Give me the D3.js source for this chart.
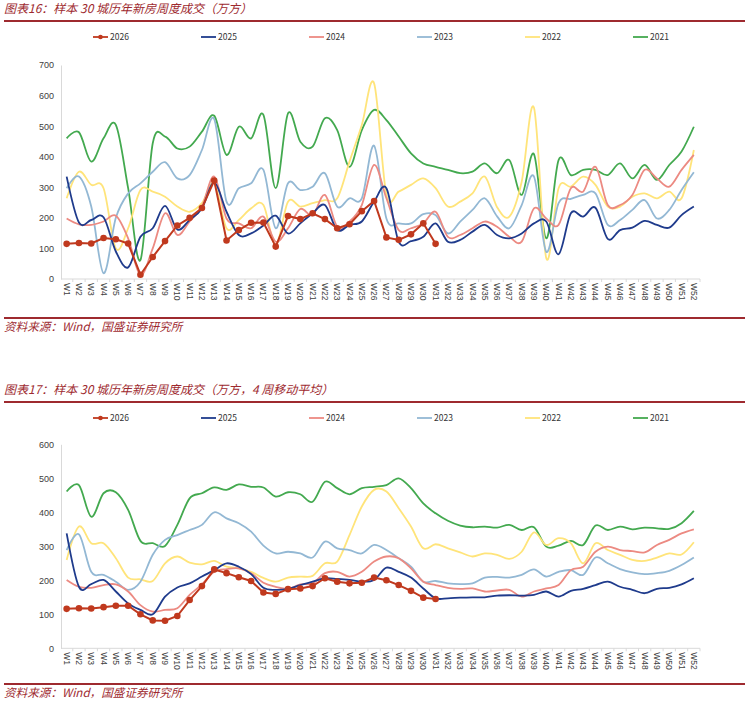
<!DOCTYPE html>
<html lang="zh-CN">
<head>
<meta charset="utf-8" />
<title>样本30城历年新房周度成交</title>
<script src="https://cdn.jsdelivr.net/npm/d3@7"></script>
<style>
body { margin:0; background:#fff; }
svg text { font-family: "Noto Sans CJK SC", "Noto Sans", sans-serif; }
</style>
</head>
<body>
<div id="chart"></div>
<script type="text/javascript">
// week categories W1..W52
var weeks = d3.range(1, 53).map(function (i) { return "W" + i; });
var years = ["2026", "2025", "2024", "2023", "2022", "2021"];
var colors = ["#c0391e", "#1f3b8c", "#ec8a82", "#93b8d4", "#ffe47a", "#43a94f"];

// weekly deals (10k m2)
var wk2026 = [115,118,116,134,130,116,14,72,124,175,200,232,322,126,160,184,185,106,206,196,215,196,166,179,222,255,136,128,146,182,115];
var wk2025 = [335,185,193,202,90,38,138,166,239,162,193,231,315,220,144,149,175,207,149,182,215,242,160,177,188,253,297,122,124,138,182,122,128,155,177,144,133,149,182,188,81,215,204,233,131,160,168,190,177,168,209,237];
var wk2024 = [198,179,177,188,207,133,13,100,215,144,188,237,335,198,182,166,204,122,166,229,209,275,171,188,242,373,264,160,166,182,220,138,144,166,188,171,138,122,231,198,177,297,286,367,242,242,275,357,329,302,357,406];
var wk2023 = [297,335,237,19,200,280,313,351,382,329,340,422,523,253,297,313,357,166,313,291,302,346,237,264,264,436,198,182,182,212,209,149,188,226,264,205,166,242,335,89,248,262,275,280,177,193,226,258,198,226,291,349];
var wk2022 = [264,351,308,297,100,166,291,286,269,237,220,248,313,166,193,231,242,111,253,237,248,258,264,384,504,640,275,286,308,329,297,237,253,280,335,235,204,318,560,68,297,302,335,308,237,237,269,280,264,286,264,422];
var wk2021 = [460,480,384,460,504,297,62,444,466,427,433,482,534,406,498,460,537,297,542,449,433,526,487,367,487,553,520,466,411,378,367,357,346,351,378,346,389,275,408,133,389,340,357,357,340,378,329,373,324,373,417,498];

// 4-week moving average
var ma2026 = [116,118,117,121,125,125,100,82,81,95,142,183,232,221,209,198,164,160,174,176,183,206,196,191,193,208,200,186,169,149,145];
var ma2025 = [338,181,189,201,167,132,113,100,152,179,191,211,230,250,240,218,178,172,175,186,196,206,204,201,196,201,237,225,208,176,147,147,149,150,150,155,156,155,157,167,152,169,175,186,196,181,172,162,175,178,188,206];
var ma2024 = [201,181,178,186,188,167,127,108,113,118,157,188,225,233,235,221,193,181,175,188,191,221,225,211,225,255,270,265,235,196,186,178,175,176,167,170,172,152,167,176,186,230,240,284,299,289,286,282,304,319,338,350];
var ma2023 = [289,335,225,216,196,172,196,275,319,333,348,363,400,382,368,343,302,279,284,279,267,314,294,289,279,304,289,265,240,196,198,191,189,191,208,210,208,216,232,211,225,230,216,267,250,233,223,218,221,228,245,267];
var ma2022 = [260,358,309,309,265,208,203,198,250,270,252,247,257,240,235,225,207,196,208,211,213,250,255,333,417,466,461,412,358,294,306,294,282,270,279,275,263,284,341,304,324,309,250,309,289,275,260,257,267,279,276,312];
var ma2021 = [461,480,387,456,459,407,316,309,301,363,441,456,473,466,482,475,473,446,459,453,431,490,471,453,471,475,480,500,471,426,397,375,361,356,358,355,363,348,356,299,302,316,304,361,348,358,350,355,353,351,368,404];

var yTicksTop = [0,100,200,300,400,500,600,700];
var yTicksBottom = [0,100,200,300,400,500,600];

var W = 754, H = 712;
var red = "#9e2a2f";

var svg = d3.select("#chart").append("svg")
    .attr("width", W)
    .attr("height", H);
svg.append("rect").attr("width", W).attr("height", H).attr("fill", "#fff");

var x = d3.scaleBand().domain(weeks).range([60.5, 700]);

function panel(cfg) {
  var g = svg.append("g");

  // caption + rule
  g.append("text")
   .attr("x", 4).attr("y", cfg.titleY)
   .attr("font-size", 12).attr("font-style", "italic")
   .attr("fill", red)
   .text(cfg.title);
  g.append("line")
   .attr("x1", 4).attr("x2", 745)
   .attr("y1", cfg.ruleY).attr("y2", cfg.ruleY)
   .attr("stroke", red).attr("stroke-width", 2.2);

  // legend
  years.forEach(function (yr, i) {
    var lx = 93 + i * 108;
    g.append("line")
     .attr("x1", lx).attr("x2", lx + 15)
     .attr("y1", cfg.legendY).attr("y2", cfg.legendY)
     .attr("stroke", colors[i]).attr("stroke-width", 1.8);
    if (i == 0) {
      g.append("circle").attr("cx", lx + 7.5).attr("cy", cfg.legendY)
       .attr("r", 2.3).attr("fill", colors[i]);
    }
    g.append("text")
     .attr("x", lx + 17).attr("y", cfg.legendY)
     .attr("dy", "0.35em")
     .attr("font-size", 8.5).attr("fill", "#333")
     .text(yr);
  });

  var y = d3.scaleLinear().domain([0, cfg.max]).range([cfg.y0, cfg.y1]);

  // y axis
  var ya = g.append("g")
    .attr("transform", "translate(61,0)")
    .call(d3.axisLeft(y).tickValues(cfg.ticks).tickSize(0).tickPadding(7));
  ya.select(".domain").attr("stroke", "#d9d9d9");
  ya.selectAll("text").attr("font-size", 9).attr("fill", "#404040")
    .style("font-family", "\"Liberation Sans\", Arial, sans-serif");

  // x axis
  var xa = g.append("g")
    .attr("transform", "translate(0," + cfg.y0 + ")")
    .call(d3.axisBottom(x).tickSize(0));
  xa.select(".domain").remove();
  xa.append("line").attr("x1", 61).attr("x2", 700).attr("stroke", "#d9d9d9");
  xa.selectAll(".tick text")
    .attr("transform", "rotate(90)")
    .attr("x", 4).attr("y", 0).attr("dy", "0.35em")
    .style("text-anchor", "start")
    .attr("font-size", 8.5).attr("fill", "#404040")
    .style("font-family", "\"Liberation Sans\", Arial, sans-serif");
  xa.selectAll(".bound").data(weeks).enter().append("line")
    .attr("class", "bound")
    .attr("x1", function (d) { return x(d) + x.bandwidth(); })
    .attr("x2", function (d) { return x(d) + x.bandwidth(); })
    .attr("y1", 0).attr("y2", 3)
    .attr("stroke", "#d9d9d9");

  // series, oldest first so 2026 sits on top
  for (var i = cfg.series.length - 1; i >= 0; i--) {
    var vals = cfg.series[i];
    var line = d3.line()
      .x(function (d, j) { return x(weeks[j]) + x.bandwidth() / 2; })
      .y(function (d) { return y(d); })
      .curve(i == 0 ? d3.curveLinear : d3.curveCatmullRom.alpha(0));
    g.append("path")
     .datum(vals)
     .attr("d", line)
     .attr("fill", "none")
     .attr("stroke", colors[i])
     .attr("stroke-width", i == 0 ? 2 : 1.8);
  }
  g.selectAll(".dot").data(cfg.series[0]).enter().append("circle")
   .attr("class", "dot")
   .attr("cx", function (d, j) { return x(weeks[j]) + x.bandwidth() / 2; })
   .attr("cy", function (d) { return y(d); })
   .attr("r", 3.3)
   .attr("fill", colors[0]);

  // source + rule
  g.append("line")
   .attr("x1", 4).attr("x2", 745)
   .attr("y1", cfg.srcRuleY).attr("y2", cfg.srcRuleY)
   .attr("stroke", red).attr("stroke-width", 2.2);
  g.append("text")
   .attr("x", 4).attr("y", cfg.srcY)
   .attr("font-size", 11.6).attr("font-style", "italic")
   .attr("fill", red)
   .text("资料来源：Wind，国盛证券研究所");
}

panel({
  title: "图表16：样本 30 城历年新房周度成交（万方）",
  titleY: 13, ruleY: 21, legendY: 37,
  max: 700, ticks: yTicksTop, y0: 279, y1: 65,
  series: [wk2026, wk2025, wk2024, wk2023, wk2022, wk2021],
  srcRuleY: 318, srcY: 331
});

panel({
  title: "图表17：样本 30 城历年新房周度成交（万方，4 周移动平均）",
  titleY: 394, ruleY: 402, legendY: 418,
  max: 600, ticks: yTicksBottom, y0: 648.3, y1: 444.3,
  series: [ma2026, ma2025, ma2024, ma2023, ma2022, ma2021],
  srcRuleY: 684, srcY: 697
});
</script>
</body>
</html>
